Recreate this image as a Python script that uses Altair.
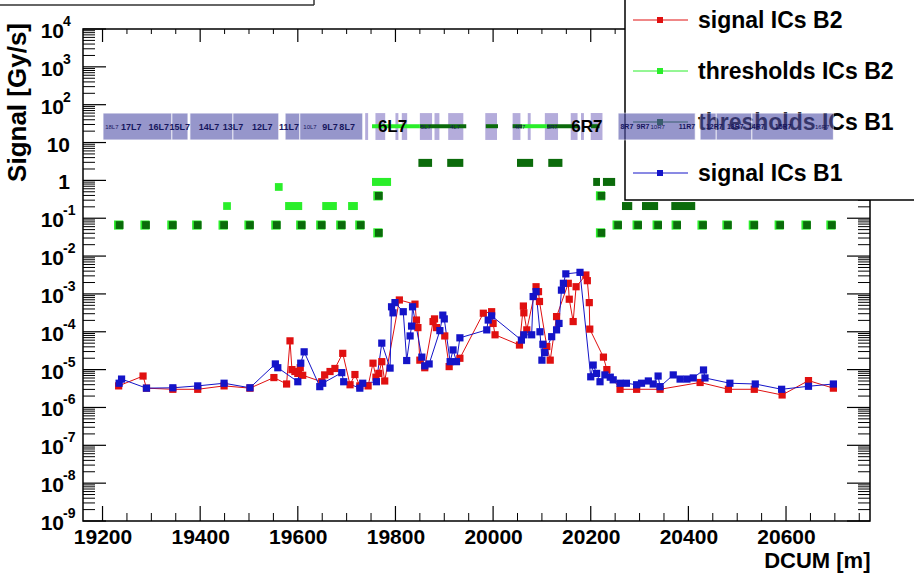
import altair as alt
import pandas as pd

W, H = 787, 492
X_DOMAIN = [19160, 20772]
Y_DOMAIN = [1e-9, 1e4]
NARROW = "Liberation Sans Narrow, Arial Narrow, Liberation Sans, sans-serif"
SANS = "Liberation Sans, Arial, sans-serif"

# ---------------- data ----------------
# signal ICs B1 (blue): DCUM [m] and log10(signal [Gy/s])
b1_dcum = [19234, 19239, 19290, 19344, 19395, 19449, 19502, 19554, 19559, 19600, 19606, 19613,
           19645, 19651, 19690, 19694, 19727, 19733, 19761, 19772, 19789, 19792, 19795, 19799,
           19816, 19823, 19830, 19833, 19835, 19854, 19860, 19869, 19891, 19897, 19900, 19912,
           19918, 19925, 19932, 19987, 19990, 19997, 20058, 20063, 20079, 20082, 20088, 20096,
           20100, 20102, 20106, 20120, 20130, 20135, 20140, 20144, 20149, 20178, 20200, 20205,
           20212, 20219, 20229, 20240, 20246, 20260, 20273, 20294, 20304, 20318, 20328, 20338,
           20342, 20369, 20383, 20397, 20410, 20431, 20434, 20485, 20537, 20591, 20646, 20697]
b1_log10 = [-5.36, -5.25, -5.49, -5.48, -5.43, -5.36, -5.48, -4.85, -4.95, -5.32, -4.83, -4.53,
            -5.45, -5.36, -5.08, -5.32, -5.49, -5.36, -5.32, -4.30, -4.96, -3.34, -3.50, -3.23,
            -3.47, -4.76, -4.11, -3.85, -3.34, -4.67, -4.90, -4.85, -3.97, -3.56, -3.66, -4.79,
            -4.48, -4.79, -4.16, -3.95, -3.69, -3.58, -4.22, -4.08, -4.08, -3.07, -2.94, -4.00,
            -4.75, -4.33, -4.55, -4.13, -3.95, -3.78, -2.90, -2.72, -2.47, -2.43, -5.19, -4.88,
            -5.10, -5.32, -5.14, -5.20, -5.27, -5.36, -5.36, -5.40, -5.36, -5.30, -5.38, -5.17,
            -5.45, -5.14, -5.25, -5.25, -5.22, -5.01, -5.22, -5.36, -5.38, -5.52, -5.44, -5.38]

# signal ICs B2 (red)
b2_dcum = [19233, 19283, 19290, 19344, 19395, 19449, 19502, 19551, 19577, 19584, 19588, 19594,
           19600, 19605, 19610, 19649, 19655, 19666, 19676, 19692, 19707, 19717, 19727, 19744,
           19754, 19760, 19766, 19772, 19778, 19808, 19840, 19843, 19846, 19850, 19860, 19877,
           19880, 19884, 19901, 19910, 19932, 19980, 19997, 20000, 20004, 20054, 20062, 20063,
           20069, 20088, 20093, 20095, 20110, 20117, 20130, 20154, 20156, 20164, 20170, 20190,
           20193, 20197, 20198, 20226, 20233, 20260, 20294, 20342, 20424, 20482, 20535, 20592,
           20646, 20697]
b2_log10 = [-5.43, -5.17, -5.49, -5.52, -5.52, -5.43, -5.49, -5.21, -5.38, -4.24, -5.00, -5.05,
            -5.10, -4.95, -5.15, -5.32, -5.14, -5.05, -4.97, -4.57, -5.40, -5.13, -5.43, -5.43,
            -4.83, -5.20, -5.10, -4.79, -5.30, -3.16, -3.27, -3.69, -3.89, -4.75, -4.95, -3.73,
            -3.66, -3.89, -4.11, -4.92, -4.70, -3.51, -3.47, -3.78, -4.08, -4.35, -3.32, -3.50,
            -3.95, -2.81, -2.94, -3.20, -4.39, -4.75, -3.60, -2.72, -3.14, -3.73, -2.81, -2.50,
            -2.65, -3.23, -3.93, -4.67, -5.00, -5.52, -5.52, -5.52, -5.34, -5.52, -5.52, -5.67,
            -5.29, -5.49]

# thresholds drawn as single squares: position, value
thr_b1_pos = [19235, 19289, 19344, 19395, 19449, 19502, 19557, 19608, 19649, 19690, 19729,
              20256, 20297, 20338, 20377, 20430, 20481, 20535, 20588, 20643, 20694,
              19766, 20222, 19766, 20222]
thr_b1_val = [0.066] * 21 + [0.041, 0.041, 0.39, 0.39]
thr_b2_pos = [19455, 19561]
thr_b2_val = [0.21, 0.67]

# thresholds drawn as runs of squares: start, end, value
run_b1_start = [19847, 19906, 20049, 20113, 20264, 20305, 20365, 20205, 20225]
run_b1_end   = [19875, 19939, 20082, 20142, 20285, 20338, 20414, 20219, 20250]
run_b1_val   = [2.9, 2.9, 2.9, 2.9, 0.21, 0.21, 0.21, 0.91, 0.91]
run_b2_start = [19574, 19650, 19703, 19752]
run_b2_end   = [19609, 19680, 19723, 19791]
run_b2_val   = [0.21, 0.21, 0.21, 0.91]
# thin threshold lines near 27 Gy/s in the 6L7 / 6R7 region
top_b2_start = [19752, 20060]
top_b2_end   = [19850, 20110]
top_b1_start = [19850, 19985, 20040, 20110, 20200]
top_b1_end   = [19945, 20010, 20060, 20175, 20218]
TOP_VAL = 27

# magnet label boxes (DCUM extents)
box_start = [19201, 19342, 19379, 19467, 19574, 19604, 20256, 20424, 20457, 20530]
box_end   = [19342, 19375, 19467, 19561, 19604, 19733, 20414, 20457, 20530, 20697]
stripe_start = [19738, 19759, 19800, 19813, 19850, 19880, 19908, 19984, 20040, 20071, 20106,
                20159, 20180, 20200]
stripe_end   = [19744, 19779, 19806, 19824, 19875, 19890, 19939, 20008, 20056, 20077, 20133,
                20173, 20186, 20224]
BOX_LO, BOX_HI, LABEL_Y = 11.7, 60.0, 25.7
lab_pos = [19259, 19315, 19358, 19418, 19467, 19527, 19582, 19666, 19701]
lab_txt = ["17L7", "16L7", "15L7", "14L7", "13L7", "12L7", "11L7", "9L7", "8L7"]
labr_pos = [20274, 20307, 20397, 20453, 20496, 20539, 20594]
labr_txt = ["8R7", "9R7", "11R7", "12R7", "13R7", "14R7", "15R7"]
tiny_pos = [19219, 19625, 19862, 19922, 20055, 20121, 20337, 20674]
tiny_txt = ["18L7", "10L7", "5L7", "4L7", "4R7", "5R7", "10R7", "16R7"]
big_pos = [19794, 20192]
big_txt = ["6L7", "6R7"]

# axis ticks / labels
x_major = [19200, 19400, 19600, 19800, 20000, 20200, 20400, 20600]
x_minor = [v for v in range(19200, 20751, 50) if v not in x_major]
y_major = [10.0 ** e for e in range(-9, 5)]
y_minor = [m * 10.0 ** e for e in range(-9, 4) for m in range(2, 10)]
ysup_exp = [4, 3, 2, -1, -2, -3, -4, -5, -6, -7, -8, -9]
yplain_val = [1.0, 10.0]
yplain_txt = ["1", "10"]

SERIES = ["signal ICs B2", "thresholds ICs B2", "thresholds ICs B1", "signal ICs B1"]
COLORS = ["#e01010", "#2aee2a", "#0b6b0b", "#1414c8"]

# ---------------- frames ----------------
sig = pd.concat([
    pd.DataFrame({"dcum": b2_dcum, "signal": [10.0 ** v for v in b2_log10], "s": SERIES[0]}),
    pd.DataFrame({"dcum": b1_dcum, "signal": [10.0 ** v for v in b1_log10], "s": SERIES[3]}),
])
thr_pts = pd.concat([
    pd.DataFrame({"dcum": thr_b1_pos, "val": thr_b1_val, "s": SERIES[2]}),
    pd.DataFrame({"dcum": thr_b2_pos, "val": thr_b2_val, "s": SERIES[1]}),
])
thr_runs = pd.concat([
    pd.DataFrame({"x0": run_b2_start, "x1": run_b2_end, "val": run_b2_val, "s": SERIES[1]}),
    pd.DataFrame({"x0": run_b1_start, "x1": run_b1_end, "val": run_b1_val, "s": SERIES[2]}),
])
thr_top = pd.concat([
    pd.DataFrame({"x0": top_b1_start, "x1": top_b1_end, "val": TOP_VAL, "s": SERIES[2]}),
    pd.DataFrame({"x0": top_b2_start, "x1": top_b2_end, "val": TOP_VAL, "s": SERIES[1]}),
])
boxes = pd.DataFrame({"x0": box_start, "x1": box_end, "lo": BOX_LO, "hi": BOX_HI})
stripes = pd.DataFrame({"x0": stripe_start, "x1": stripe_end, "lo": BOX_LO, "hi": BOX_HI})
labs = pd.DataFrame({"x": lab_pos, "t": lab_txt, "y": LABEL_Y})
labsr = pd.DataFrame({"x": labr_pos, "t": labr_txt, "y": LABEL_Y})
tiny = pd.DataFrame({"x": tiny_pos, "t": tiny_txt, "y": LABEL_Y})
big = pd.DataFrame({"x": big_pos, "t": big_txt, "y": LABEL_Y})

xs = alt.Scale(domain=X_DOMAIN, nice=False, zero=False)
ys = alt.Scale(type="log", domain=Y_DOMAIN, nice=False)
cs = alt.Scale(domain=SERIES, range=COLORS)
XAX = alt.Axis(values=x_major, format="d", ticks=False, domain=False, grid=False,
               labelFont=NARROW, labelFontSize=21, labelFontWeight="bold", labelColor="black",
               labelPadding=5, labelFlush=False, labelOverlap=False,
               title="DCUM [m]", titleFont=NARROW, titleFontSize=22, titleFontWeight="bold",
               titleColor="black", titleAnchor="end", titleAlign="right", titleX=W, titleY=46,
               titleBaseline="alphabetic")
YAX = alt.Axis(labels=False, ticks=False, domain=False, grid=False, title="")


def X(f, **kw):
    return alt.X(f, type="quantitative", scale=xs, axis=XAX, **kw)


def Y(f, **kw):
    return alt.Y(f, type="quantitative", scale=ys, axis=YAX, **kw)


def C(f):
    return alt.Color(f, type="nominal", scale=cs, legend=None)


one = pd.DataFrame({"k": [0]})

frame = alt.Chart(one).mark_rect(fill=None, stroke="black", strokeWidth=1.5).encode(
    x=alt.value(0), x2=alt.value(W), y=alt.value(0), y2=alt.value(H))


def xticks(vals, y0, y1, w):
    return alt.Chart(pd.DataFrame({"v": vals})).mark_rule(color="black", strokeWidth=w).encode(
        x=X("v"), y=alt.value(y0), y2=alt.value(y1))


def yticks(vals, x0, x1, w):
    return alt.Chart(pd.DataFrame({"v": vals})).mark_rule(color="black", strokeWidth=w).encode(
        y=Y("v"), x=alt.value(x0), x2=alt.value(x1))


ticks = [
    xticks(x_major, H, H - 15, 1.2), xticks(x_minor, H, H - 8, 1),
    xticks(x_major, 0, 13, 1.2), xticks(x_minor, 0, 5, 1),
    yticks(y_major, 0, 23, 1.2), yticks(y_minor, 0, 12, 1),
    yticks(y_major, W, W - 23, 1.2), yticks(y_minor, W, W - 12, 1),
]

ylab_sup = pd.DataFrame({"v": [10.0 ** e for e in ysup_exp], "e": [str(e) for e in ysup_exp]})
ylab_base = alt.Chart(ylab_sup).mark_text(
    text="10", font=NARROW, fontSize=21, fontWeight="bold", align="right", baseline="middle",
    color="black", dy=3).encode(y=Y("v"), x=alt.value(-19))
ylab_exp = alt.Chart(ylab_sup).mark_text(
    font=NARROW, fontSize=14, fontWeight="bold", align="left", baseline="middle",
    color="black", dy=-7).encode(y=Y("v"), x=alt.value(-20), text="e:N")
ylab_plain = alt.Chart(pd.DataFrame({"v": yplain_val, "t": yplain_txt})).mark_text(
    font=NARROW, fontSize=21, fontWeight="bold", align="right", baseline="middle",
    color="black", dy=3).encode(y=Y("v"), x=alt.value(-13), text="t:N")
ytitle = alt.Chart(one).mark_text(
    text="Signal [Gy/s]", font=NARROW, fontSize=26, fontWeight="bold", angle=270,
    align="right", baseline="middle", color="black").encode(x=alt.value(-65), y=alt.value(-6))

lines = alt.Chart(sig).mark_line(strokeWidth=1).encode(
    x=X("dcum"), y=Y("signal"), color=C("s"), detail="s:N", order="dcum:Q")
pts = alt.Chart(sig).mark_square(size=52, opacity=1).encode(
    x=X("dcum"), y=Y("signal"), color=C("s"))

thr_rim = alt.Chart(thr_pts).transform_filter("datum.s == 'thresholds ICs B1'").mark_square(
    size=84, opacity=1, color="#2aee2a").encode(x=X("dcum"), y=Y("val"), xOffset=alt.value(-1))
thr_sq = alt.Chart(thr_pts).mark_square(size=60, opacity=1).encode(
    x=X("dcum"), y=Y("val"), color=C("s"))
thr_run = alt.Chart(thr_runs).mark_rule(strokeWidth=8, strokeCap="butt").encode(
    x=X("x0"), x2="x1", y=Y("val"), color=C("s"))
thr_topline = alt.Chart(thr_top).mark_rule(strokeWidth=4, strokeCap="butt").encode(
    x=X("x0"), x2="x1", y=Y("val"), color=C("s"))

# legend (drawn as marks so the label boxes can overlay it, as in the original)
leg_box = alt.Chart(one).mark_rect(fill="white", stroke="black", strokeWidth=1.5).encode(
    x=alt.value(542), x2=alt.value(860), y=alt.value(-40), y2=alt.value(171))
leg_items = []
for i, (lab, col) in enumerate(zip(SERIES, COLORS)):
    yy = -9 + i * 51
    leg_items.append(alt.Chart(one).mark_rule(color=col, strokeWidth=1).encode(
        x=alt.value(550), x2=alt.value(605), y=alt.value(yy)))
    leg_items.append(alt.Chart(one).mark_square(color=col, size=36, opacity=1).encode(
        x=alt.value(577), y=alt.value(yy)))
    leg_items.append(alt.Chart(one).mark_text(
        text=lab, font=SANS, fontSize=23, fontWeight="bold", align="left", baseline="middle",
        color="black", dy=1).encode(x=alt.value(615), y=alt.value(yy)))

title_box = [
    alt.Chart(one).mark_rule(color="#333333", strokeWidth=1.5).encode(
        x=alt.value(-90), x2=alt.value(231), y=alt.value(-24)),
    alt.Chart(one).mark_rule(color="#333333", strokeWidth=1.5).encode(
        x=alt.value(231), y=alt.value(-35), y2=alt.value(-24)),
]

box_marks = alt.Chart(boxes).mark_rect(color="#5656ac", opacity=0.62, stroke="white",
                                       strokeWidth=0.8).encode(
    x=X("x0"), x2="x1", y=Y("lo"), y2="hi")
stripe_marks = alt.Chart(stripes).mark_rect(color="#6a5ab8", opacity=0.5).encode(
    x=X("x0"), x2="x1", y=Y("lo"), y2="hi")
lab_marks = alt.Chart(labs).mark_text(font=NARROW, fontSize=9, fontWeight="bold",
                                      color="#16165e").encode(x=X("x"), y=Y("y"), text="t:N")
labr_marks = alt.Chart(labsr).mark_text(font=NARROW, fontSize=7, fontWeight="bold",
                                        color="#16165e").encode(x=X("x"), y=Y("y"), text="t:N")
tiny_marks = alt.Chart(tiny).mark_text(font=NARROW, fontSize=6, color="#16165e").encode(
    x=X("x"), y=Y("y"), text="t:N")
big_marks = alt.Chart(big).mark_text(font=SANS, fontSize=17, fontWeight="bold",
                                     color="black").encode(x=X("x"), y=Y("y"), text="t:N")

chart = alt.layer(
    frame, *ticks, ylab_base, ylab_exp, ylab_plain, ytitle,
    thr_rim, thr_sq, thr_run, lines, pts,
    leg_box, *leg_items, title_box[0], title_box[1],
    stripe_marks, box_marks, thr_topline, lab_marks, labr_marks, tiny_marks, big_marks,
).properties(
    width=W, height=H,
    autosize=alt.AutoSizeParams(type="none"),
    padding={"left": 83, "top": 29, "right": 44, "bottom": 52},
    background="white",
).configure_view(stroke=None)

chart.save("out.html", embed_options={"renderer": "svg", "actions": False})
